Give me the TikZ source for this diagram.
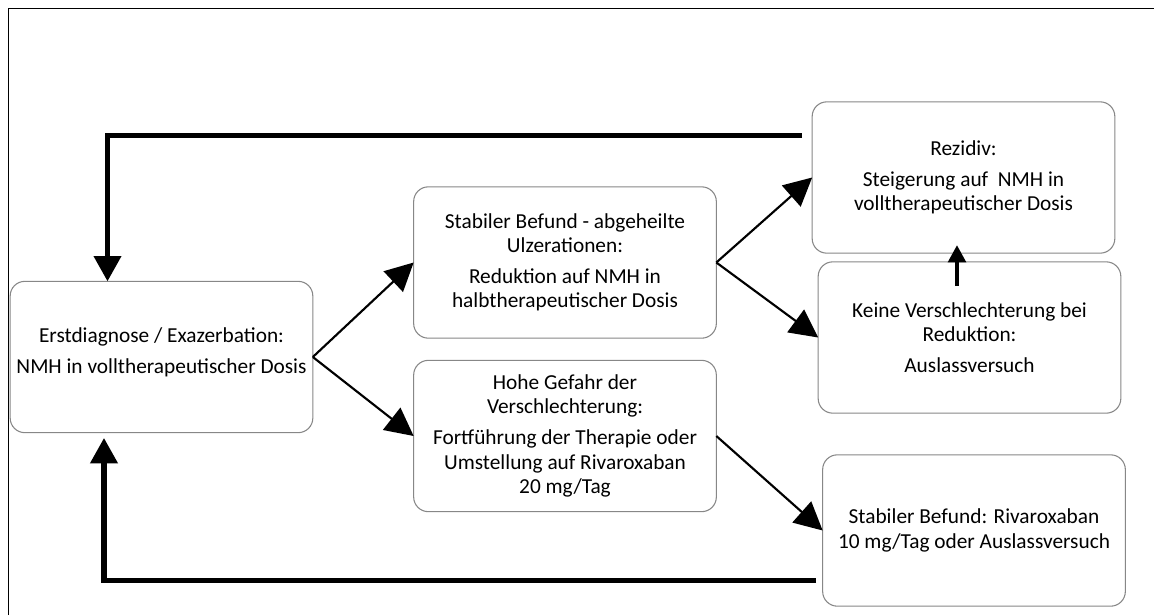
\documentclass[tikz,border=0pt]{standalone}
\usepackage{fontspec}
\setmainfont{Carlito}
\usetikzlibrary{arrows.meta,calc}
\definecolor{boxgray}{RGB}{135,135,135}
\tikzset{
  box/.style={draw=boxgray, line width=0.8pt, rounded corners=11pt, fill=white,
    minimum width=227pt, minimum height=113.5pt, inner sep=0pt, outer sep=0pt,
    align=center, font=\fontsize{16pt}{18.2pt}\selectfont},
  thin/.style={line width=1.6pt, -{Triangle[length=21pt,width=21pt]}},
  fb/.style={line width=3.8pt, -{Triangle[length=19pt,width=20pt]}},
  up/.style={line width=3.6pt, -{Triangle[length=13pt,width=13pt]}},
  frameline/.style={line width=1.2pt}
}
\begin{document}
\begin{tikzpicture}[x=0.75pt,y=-0.75pt]
\useasboundingbox (0,0) rectangle (1154,615);
% frame (left and top edges visible)
\coordinate (fbl) at (8.5,615);
\coordinate (ftl) at (8.5,8.5);
\coordinate (ftr) at (1154,8.5);
\draw[frameline] (fbl) -- (ftl) -- (ftr);

\node[box] (A) at (161.5,357) {Erstdiagnose / Exazerbation:\\[5pt]NMH in volltherapeutischer Dosis\\[-9.2pt]};
\node[box] (B) at (565,262.5) {Stabiler Befund - abgeheilte\\Ulzerationen:\\[5pt]Reduktion auf NMH in\\halbtherapeutischer Dosis};
\node[box] (C) at (565,436) {Hohe Gefahr der\\Verschlechterung:\\[5pt]Fortführung der Therapie oder\\Umstellung auf Rivaroxaban\\20 mg/Tag};
\node[box] (D) at (963.5,177.5) {Rezidiv:\\[5pt]Steigerung auf~ NMH in\\volltherapeutischer Dosis};
\node[box] (E) at (969.5,337.5) {Keine Verschlechterung bei\\Reduktion:\\[5pt]Auslassversuch};
\node[box] (F) at (974,530.5) {Stabiler Befund: Rivaroxaban\\10 mg/Tag oder Auslassversuch};

% forward arrows
\draw[thin] (A.east) -- (B.west);
\draw[thin] (A.east) -- (C.west);
\draw[thin] (B.east) -- (D.west);
\draw[thin] (B.east) -- (E.west);
\draw[thin] (C.east) -- (F.west);

% E -> D
\coordinate (eu) at (957,286);
\coordinate (du) at (957,245);
\draw[up] (eu) -- (du);

% feedback top
\coordinate (tr) at (802,135.5);
\coordinate (tl) at (107.5,135.5);
\draw[fb] (tr) -- (tl) -- (tl |- A.north);

% feedback bottom
\coordinate (br) at (816,580.5);
\coordinate (bl) at (104,580.5);
\coordinate (bt) at (104,438);
\draw[fb] (br) -- (bl) -- (bt);
\end{tikzpicture}
\end{document}
